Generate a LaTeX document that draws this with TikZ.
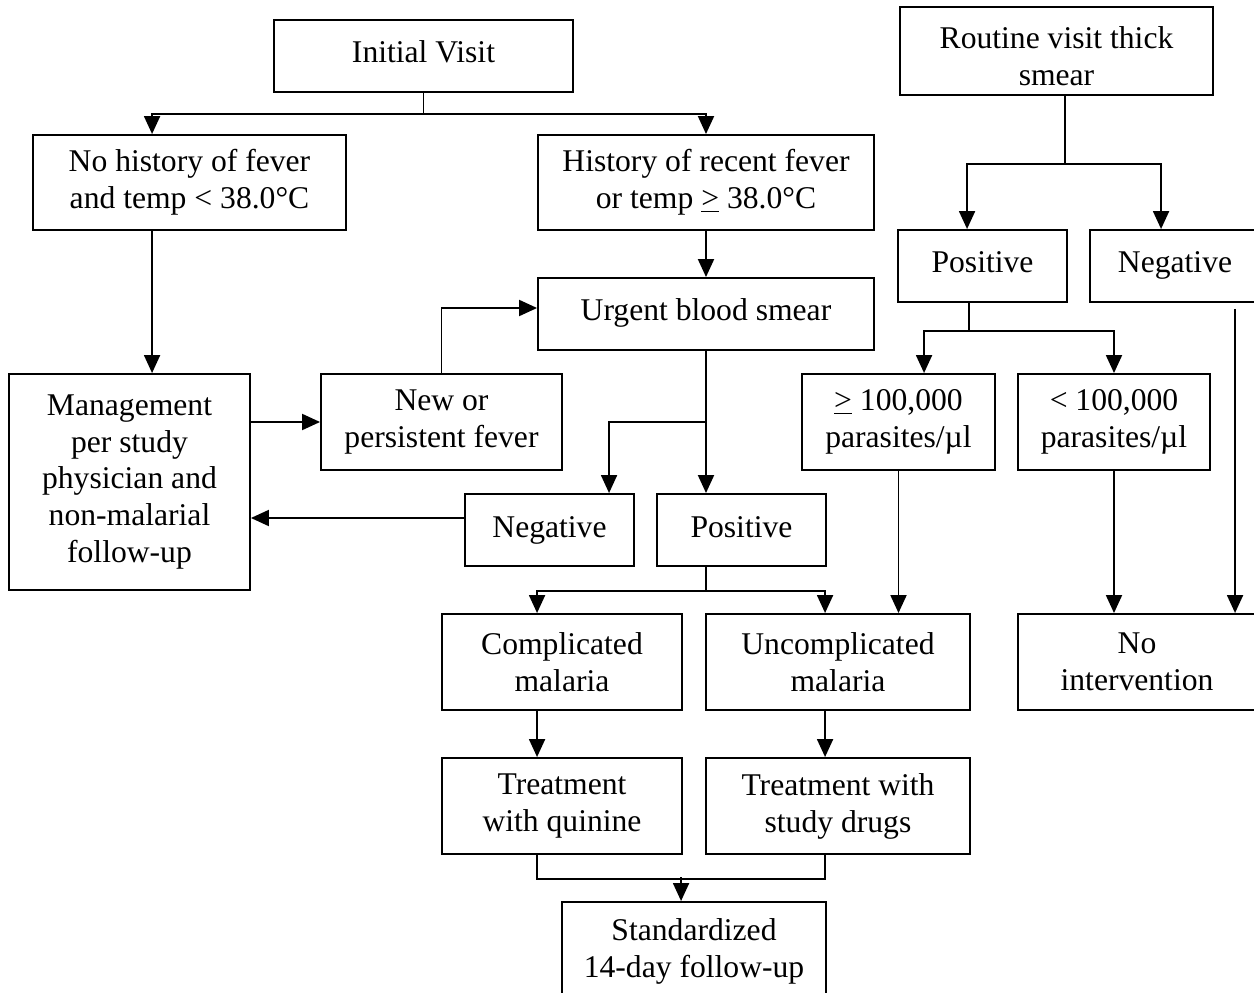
\documentclass[tikz,border=0pt]{standalone}
\usepackage{fontspec}
\setmainfont{Liberation Serif}
\usetikzlibrary{arrows.meta,calc}

\tikzset{
  box/.style={draw,line width=1.1pt,align=center,inner sep=0pt,
    font=\fontsize{18}{21}\selectfont},
  onel/.style={text height=0.45cm,text depth=0.17cm},
  arr/.style={line width=1.1pt,-{Triangle[length=0.36cm,width=0.32cm]}},
  ln/.style={line width=1.1pt}
}

\begin{document}
\begin{tikzpicture}[x=0.02cm,y=-0.02cm]
    \useasboundingbox (0,0) rectangle (1254,993);
    % left branch
    \node[box,onel,minimum width=5.98cm,minimum height=1.44cm](init)at(423.5,56){Initial Visit};
    \node[box,minimum width=6.26cm,minimum height=1.9cm](nohist)at(189.5,182.5){No history of fever\\and temp < 38.0°C};
    \node[box,minimum width=6.72cm,minimum height=1.9cm](hist)at(706,182.5){History of recent fever\\or temp \underline{>} 38.0°C};
    \node[box,onel,minimum width=6.72cm,minimum height=1.44cm](urgent)at(706,314){Urgent blood smear};
    \node[box,minimum width=4.82cm,minimum height=4.32cm](mgmt)at(129.5,482){Management\\per study\\physician and\\non-malarial\\follow-up};
    \node[box,minimum width=4.82cm,minimum height=1.92cm](newfev)at(441.5,422){New or\\persistent fever};
    \node[box,onel,minimum width=3.38cm,minimum height=1.44cm](negM)at(549.5,530){Negative};
    \node[box,onel,minimum width=3.38cm,minimum height=1.44cm](posM)at(741.5,530){Positive};
    \node[box,minimum width=4.8cm,minimum height=1.92cm](compl)at(562,662){Complicated\\malaria};
    \node[box,minimum width=5.28cm,minimum height=1.92cm](uncompl)at(838,662){Uncomplicated\\malaria};
    \node[box,minimum width=4.8cm,minimum height=1.92cm](quin)at(562,806){Treatment\\with quinine};
    \node[box,minimum width=5.28cm,minimum height=1.92cm](drugs)at(838,806){Treatment with\\study drugs};
    \node[box,minimum width=5.28cm,minimum height=1.96cm](std)at(694,951){Standardized\\14-day follow-up};
    % right branch
    \node[box,text height=1.4cm,minimum width=6.26cm,minimum height=1.76cm](routine)at(1056.5,51){Routine visit thick\\smear};
    \node[box,onel,minimum width=3.38cm,minimum height=1.44cm](posR)at(982.5,266){Positive};
    \node[box,onel,minimum width=3.4cm,minimum height=1.44cm](negR)at(1175,266){Negative};
    \node[box,minimum width=3.86cm,minimum height=1.92cm](ge)at(898.5,422){\underline{>} 100,000\\parasites/µl};
    \node[box,minimum width=3.84cm,minimum height=1.92cm](lt)at(1114,422){< 100,000\\parasites/µl};
    \node[box,minimum width=4.76cm,minimum height=1.92cm](nointerv)at(1137,662){No\\intervention};

    % connectors, left
    \draw[ln](init.south)--++(0,21)coordinate(j1);
    \draw[arr](j1)-|($(nohist.north west)+(120,0)$);
    \draw[arr](j1)-|(hist.north);
    \draw[arr]($(nohist.south west)+(120,0)$)coordinate(a)--(a|-mgmt.north);
    \draw[arr](hist)--(urgent);
    \draw[arr](urgent.south)--(urgent.south|-posM.north);
    \draw[arr](urgent.south|-newfev.east)-|($(negM.north west)+(145,0)$);
    \draw[arr](mgmt.east|-newfev.west)--(newfev.west);
    \draw[arr](newfev.north)|-($(urgent.west)+(0,-6)$);
    \draw[arr]($(negM.west)+(0,-12)$)coordinate(b)--(b-|mgmt.east);
    \draw[ln](urgent.south|-posM.south)--++(0,24)coordinate(j2);
    \draw[arr](j2)-|($(compl.north west)+(96,0)$);
    \draw[arr](j2)-|($(uncompl.north west)+(120,0)$);
    \draw[arr]($(compl.south west)+(96,0)$)coordinate(c)--(c|-quin.north);
    \draw[arr]($(uncompl.south west)+(120,0)$)coordinate(d)--(d|-drugs.north);
    \draw[ln]($(quin.south west)+(96,0)$)--++(0,24)-|($(drugs.south west)+(120,0)$);
    \draw[arr]($(std.north west)+(120,-24)$)--($(std.north west)+(120,0)$);

    % connectors, right
    \draw[ln]($(routine.south west)+(166,0)$)--++(0,68)coordinate(j3);
    \draw[arr](j3)-|($(posR.north west)+(70,0)$);
    \draw[arr](j3)-|($(negR.north west)+(72,0)$);
    \draw[ln]($(posR.south west)+(72,0)$)--++(0,28)coordinate(j4);
    \draw[arr](j4)-|($(ge.north west)+(123,0)$);
    \draw[arr](j4)-|(lt.north);
    \draw[arr](ge.south)--(ge.south|-uncompl.north);
    \draw[arr](lt.south)--(lt.south|-nointerv.north);
    \draw[arr]($(negR.south west)+(146,6)$)coordinate(e)--(e|-nointerv.north);
\end{tikzpicture}
\end{document}
